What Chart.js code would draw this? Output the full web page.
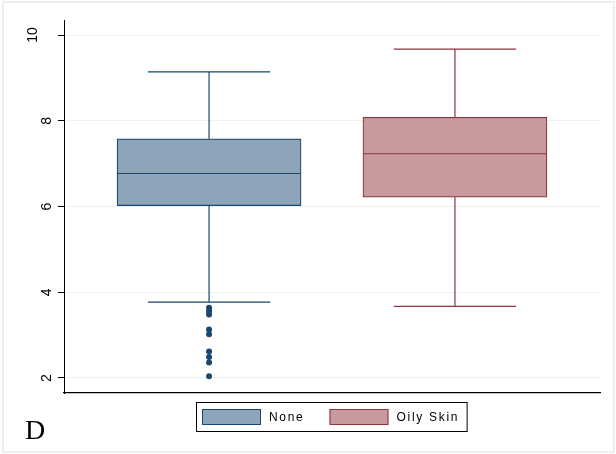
<!DOCTYPE html>
<html>
<head>
<meta charset="utf-8">
<script src="https://cdn.jsdelivr.net/npm/chart.js@4"></script>
<style>
  body { margin: 0; background: #fff; }
</style>
</head>
<body>
<canvas id="myChart" width="616" height="454"></canvas>
<script>
  // box plot summary per group
  const groups = ['None', 'Oily Skin'];
  const groupX = [1, 2];
  const whiskerLow = [3.77, 3.67];
  const q1 = [6.02, 6.22];
  const median = [6.77, 7.23];
  const q3 = [7.58, 8.08];
  const whiskerHigh = [9.14, 9.67];
  // outside values (only the first group has them)
  const outliersNone = [3.64, 3.56, 3.48, 3.13, 3.02, 2.62, 2.49, 2.36, 2.04];
  const yTicks = [2, 4, 6, 8, 10];

  const lineColors = ['#1a476f', '#90353b'];
  const fillColors = ['#8ea4b9', '#c99a9d'];

  // whiskers, caps and medians, drawn from the bar elements and the y scale
  const boxLines = {
    id: 'boxLines',
    afterDatasetsDraw(chart) {
      const c = chart.ctx;
      const y = chart.scales.y;
      const bars = chart.getDatasetMeta(0).data;
      bars.forEach((bar, i) => {
        const half = bar.width / 2;
        const capHalf = half * 0.665;
        c.save();
        c.strokeStyle = lineColors[i];
        c.lineWidth = 1.2;
        c.beginPath();
        // upper whisker + cap
        c.moveTo(bar.x, y.getPixelForValue(q3[i]));
        c.lineTo(bar.x, y.getPixelForValue(whiskerHigh[i]));
        c.moveTo(bar.x - capHalf, y.getPixelForValue(whiskerHigh[i]));
        c.lineTo(bar.x + capHalf, y.getPixelForValue(whiskerHigh[i]));
        // lower whisker + cap
        c.moveTo(bar.x, y.getPixelForValue(q1[i]));
        c.lineTo(bar.x, y.getPixelForValue(whiskerLow[i]));
        c.moveTo(bar.x - capHalf, y.getPixelForValue(whiskerLow[i]));
        c.lineTo(bar.x + capHalf, y.getPixelForValue(whiskerLow[i]));
        // median
        c.moveTo(bar.x - half, y.getPixelForValue(median[i]));
        c.lineTo(bar.x + half, y.getPixelForValue(median[i]));
        c.stroke();
        c.restore();
      });
    }
  };

  // frame, rotated y labels, legend box and panel letter
  const extras = {
    id: 'extras',
    afterDraw(chart) {
      const c = chart.ctx;
      const y = chart.scales.y;
      c.save();
      c.strokeStyle = '#e3ebed';
      c.lineWidth = 1.5;
      c.strokeRect(3, 2, 611, 450);

      // y labels, rotated
      c.fillStyle = '#000';
      c.font = '14px "Liberation Sans", Arial, sans-serif';
      c.textAlign = 'center';
      c.textBaseline = 'alphabetic';
      yTicks.forEach(v => {
        const s = String(v);
        const bx = s.length > 1 ? 37 : 51;
        c.save();
        c.translate(bx, y.getPixelForValue(v));
        c.rotate(-Math.PI / 2);
        c.fillText(s, 0, 0);
        c.restore();
      });

      // legend
      c.font = '12px "Liberation Sans", Arial, sans-serif';
      c.letterSpacing = '1.7px';
      c.textAlign = 'left';
      c.textBaseline = 'middle';
      const boxTop = 402.5, boxH = 29, sw = 59, sh = 16;
      let x = 202;
      const starts = [];
      groups.forEach((g, i) => {
        starts.push(x);
        x += sw + 8 + c.measureText(g).width + 25;
      });
      const right = x - 25 + 8;
      c.lineWidth = 1;
      c.strokeStyle = '#000';
      c.strokeRect(196.5, boxTop, right - 196.5, boxH);
      groups.forEach((g, i) => {
        const sx = starts[i];
        c.fillStyle = fillColors[i];
        c.fillRect(sx, 409, sw, sh);
        c.strokeStyle = lineColors[i];
        c.strokeRect(sx + 0.5, 409.5, sw - 1, sh - 1);
        c.fillStyle = '#000';
        c.fillText(g, sx + sw + 8, 417.5);
      });
      c.letterSpacing = '0px';

      c.font = '28px "Liberation Serif", "Times New Roman", serif';
      c.textBaseline = 'alphabetic';
      c.fillText('D', 25, 439);
      c.restore();
    }
  };

  const ctx = document.getElementById('myChart');

  new Chart(ctx, {
    type: 'bar',
    data: {
      datasets: [
        {
          label: 'box',
          data: groupX.map((x, i) => ({ x: x, y: [q1[i], q3[i]] })),
          backgroundColor: fillColors,
          borderColor: lineColors,
          borderWidth: 1.2,
          borderSkipped: false,
          barThickness: 184
        },
        {
          type: 'scatter',
          label: 'outside',
          data: outliersNone.map(v => ({ x: groupX[0], y: v })),
          backgroundColor: lineColors[0],
          borderColor: lineColors[0],
          pointRadius: 3,
          pointBorderWidth: 0
        }
      ]
    },
    options: {
      responsive: false,
      animation: false,
      events: [],
      layout: { padding: { top: 20, right: 16, bottom: 61, left: 0 } },
      plugins: { legend: { display: false }, tooltip: { enabled: false } },
      scales: {
        x: {
          type: 'linear',
          min: 0.41,
          max: 2.59,
          offset: false,
          ticks: { display: false },
          grid: { display: false, offset: false },
          border: { display: true, color: '#000', width: 1.3 },
          afterBuildTicks: s => { s.ticks = groupX.map(v => ({ value: v })); },
          afterFit: s => { s.height = 0; }
        },
        y: {
          min: 1.65,
          max: 10.35,
          ticks: { display: false },
          grid: { color: '#eaf1f2', lineWidth: 1, tickLength: 6, tickColor: '#000' },
          border: { display: true, color: '#000', width: 1 },
          afterBuildTicks: s => { s.ticks = yTicks.map(v => ({ value: v })); },
          afterFit: s => { s.width = 64; }
        }
      }
    },
    plugins: [boxLines, extras]
  });
</script>
</body>
</html>
